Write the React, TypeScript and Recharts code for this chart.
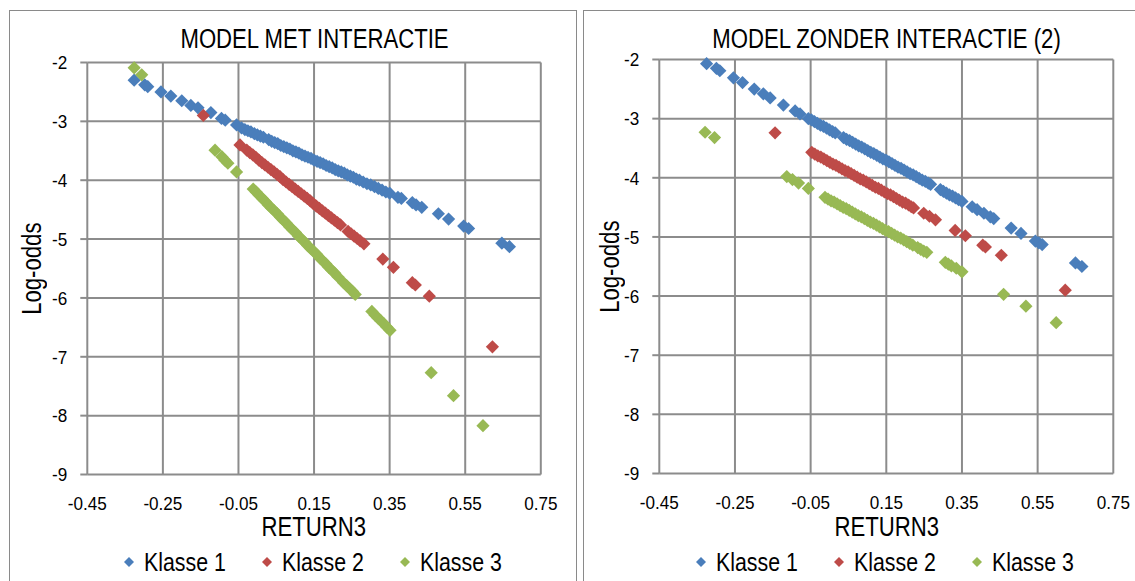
import React from "react";
import { ScatterChart, Scatter, XAxis, YAxis, CartesianGrid } from "recharts";

type Pt = [number, number];

const X_TICKS = [-0.45, -0.25, -0.05, 0.15, 0.35, 0.55, 0.75];
const Y_TICKS = [-9, -8, -7, -6, -5, -4, -3, -2];
const CLASS_NAMES = ["Klasse 1", "Klasse 2", "Klasse 3"];
const CLASS_COLORS = ["#4A7EBB", "#BE4B48", "#98B954"];

// MODEL MET INTERACTIE
const metK1: Pt[] = [
  [-0.326, -2.3], [-0.298, -2.38], [-0.29, -2.41], [-0.255, -2.5], [-0.229, -2.57],
  [-0.2, -2.65], [-0.176, -2.73], [-0.157, -2.77], [-0.123, -2.85], [-0.095, -2.95],
  [-0.085, -2.98], [-0.055, -3.06], [-0.042, -3.11], [-0.033, -3.14], [-0.025, -3.16],
  [-0.017, -3.18], [-0.008, -3.21], [0.0, -3.23], [0.008, -3.25], [0.016, -3.27],
  [0.03, -3.31], [0.038, -3.34], [0.046, -3.36], [0.054, -3.38], [0.062, -3.41],
  [0.07, -3.43], [0.078, -3.45], [0.086, -3.47], [0.094, -3.5], [0.102, -3.52],
  [0.11, -3.54], [0.118, -3.57], [0.126, -3.59], [0.134, -3.61], [0.142, -3.63],
  [0.15, -3.66], [0.158, -3.68], [0.166, -3.7], [0.174, -3.72], [0.182, -3.75],
  [0.19, -3.77], [0.198, -3.79], [0.206, -3.82], [0.214, -3.84], [0.222, -3.86],
  [0.23, -3.88], [0.238, -3.91], [0.246, -3.93], [0.254, -3.95], [0.262, -3.98],
  [0.27, -4.0], [0.28, -4.03], [0.29, -4.06], [0.3, -4.08], [0.31, -4.11],
  [0.32, -4.14], [0.33, -4.17], [0.34, -4.2], [0.35, -4.22], [0.372, -4.29],
  [0.381, -4.31], [0.41, -4.38], [0.42, -4.42], [0.435, -4.46], [0.479, -4.57],
  [0.506, -4.66], [0.546, -4.78], [0.559, -4.82], [0.647, -5.07], [0.667, -5.13],
];
const metK2: Pt[] = [
  [-0.143, -2.9], [-0.046, -3.4], [-0.028, -3.49], [-0.02, -3.53], [-0.012, -3.57],
  [-0.004, -3.61], [0.004, -3.66], [0.012, -3.7], [0.02, -3.74], [0.028, -3.78],
  [0.036, -3.82], [0.044, -3.86], [0.052, -3.9], [0.06, -3.94], [0.068, -3.99],
  [0.076, -4.03], [0.084, -4.07], [0.092, -4.11], [0.1, -4.15], [0.108, -4.19],
  [0.116, -4.23], [0.124, -4.27], [0.132, -4.31], [0.14, -4.35], [0.148, -4.4],
  [0.156, -4.44], [0.164, -4.48], [0.172, -4.52], [0.18, -4.56], [0.188, -4.6],
  [0.196, -4.64], [0.204, -4.68], [0.212, -4.72], [0.22, -4.76], [0.24, -4.87],
  [0.248, -4.91], [0.256, -4.95], [0.264, -4.99], [0.272, -5.03], [0.282, -5.08],
  [0.332, -5.34], [0.36, -5.48], [0.41, -5.74], [0.418, -5.78], [0.455, -5.97],
  [0.622, -6.83],
];
const metK3: Pt[] = [
  [-0.326, -2.09], [-0.306, -2.21], [-0.112, -3.49], [-0.094, -3.6], [-0.086, -3.66],
  [-0.078, -3.71], [-0.055, -3.86], [-0.011, -4.15], [-0.003, -4.2], [0.005, -4.26],
  [0.013, -4.31], [0.021, -4.36], [0.029, -4.42], [0.037, -4.47], [0.045, -4.52],
  [0.053, -4.57], [0.061, -4.63], [0.069, -4.68], [0.077, -4.73], [0.085, -4.79],
  [0.093, -4.84], [0.101, -4.89], [0.109, -4.95], [0.117, -5.0], [0.125, -5.05],
  [0.133, -5.11], [0.141, -5.16], [0.149, -5.21], [0.157, -5.26], [0.165, -5.32],
  [0.173, -5.37], [0.181, -5.42], [0.189, -5.48], [0.197, -5.53], [0.205, -5.58],
  [0.213, -5.64], [0.228, -5.74], [0.236, -5.79], [0.244, -5.84], [0.252, -5.89],
  [0.259, -5.94], [0.303, -6.23], [0.311, -6.29], [0.319, -6.34], [0.327, -6.39],
  [0.335, -6.44], [0.343, -6.5], [0.351, -6.55], [0.46, -7.27], [0.519, -7.66],
  [0.597, -8.17],
];

// MODEL ZONDER INTERACTIE (2)
const zonderK1: Pt[] = [
  [-0.325, -2.07], [-0.299, -2.15], [-0.29, -2.19], [-0.254, -2.31], [-0.23, -2.39],
  [-0.199, -2.5], [-0.175, -2.58], [-0.157, -2.65], [-0.122, -2.77], [-0.091, -2.87],
  [-0.078, -2.92], [-0.056, -3.0], [-0.048, -3.02], [-0.04, -3.05], [-0.032, -3.08],
  [-0.024, -3.11], [-0.016, -3.13], [-0.008, -3.16], [0.0, -3.19], [0.008, -3.22],
  [0.015, -3.24], [0.037, -3.32], [0.045, -3.35], [0.053, -3.37], [0.061, -3.4],
  [0.069, -3.43], [0.077, -3.46], [0.085, -3.48], [0.093, -3.51], [0.101, -3.54],
  [0.109, -3.57], [0.117, -3.59], [0.125, -3.62], [0.133, -3.65], [0.141, -3.68],
  [0.149, -3.7], [0.157, -3.73], [0.165, -3.76], [0.173, -3.79], [0.181, -3.82],
  [0.189, -3.84], [0.197, -3.87], [0.205, -3.9], [0.213, -3.93], [0.221, -3.95],
  [0.229, -3.98], [0.237, -4.01], [0.245, -4.04], [0.253, -4.06], [0.261, -4.09],
  [0.267, -4.11], [0.293, -4.2], [0.301, -4.23], [0.309, -4.26], [0.317, -4.29],
  [0.325, -4.31], [0.333, -4.34], [0.341, -4.37], [0.35, -4.4], [0.377, -4.49],
  [0.39, -4.54], [0.408, -4.6], [0.425, -4.66], [0.434, -4.69], [0.48, -4.85],
  [0.506, -4.94], [0.544, -5.07], [0.553, -5.1], [0.562, -5.13], [0.65, -5.44],
  [0.667, -5.5],
];
const zonderK2: Pt[] = [
  [-0.144, -3.24], [-0.047, -3.57], [-0.039, -3.6], [-0.031, -3.63], [-0.023, -3.65],
  [-0.015, -3.68], [-0.007, -3.71], [0.001, -3.74], [0.009, -3.77], [0.017, -3.79],
  [0.025, -3.82], [0.033, -3.85], [0.041, -3.88], [0.049, -3.9], [0.057, -3.93],
  [0.065, -3.96], [0.073, -3.99], [0.081, -4.02], [0.089, -4.04], [0.097, -4.07],
  [0.105, -4.1], [0.113, -4.13], [0.121, -4.16], [0.129, -4.18], [0.137, -4.21],
  [0.145, -4.24], [0.153, -4.27], [0.161, -4.29], [0.169, -4.32], [0.177, -4.35],
  [0.185, -4.38], [0.193, -4.41], [0.201, -4.43], [0.209, -4.46], [0.216, -4.49],
  [0.222, -4.51], [0.249, -4.6], [0.264, -4.65], [0.28, -4.71], [0.332, -4.89],
  [0.359, -4.98], [0.405, -5.14], [0.412, -5.17], [0.454, -5.31], [0.623, -5.9],
];
const zonderK3: Pt[] = [
  [-0.329, -3.23], [-0.304, -3.32], [-0.113, -3.98], [-0.098, -4.03], [-0.082, -4.09],
  [-0.056, -4.18], [-0.012, -4.33], [-0.004, -4.36], [0.004, -4.39], [0.012, -4.41],
  [0.02, -4.44], [0.028, -4.47], [0.036, -4.5], [0.044, -4.52], [0.052, -4.55],
  [0.06, -4.58], [0.068, -4.61], [0.076, -4.64], [0.084, -4.66], [0.092, -4.69],
  [0.1, -4.72], [0.108, -4.75], [0.116, -4.77], [0.124, -4.8], [0.132, -4.83],
  [0.14, -4.86], [0.148, -4.89], [0.156, -4.91], [0.164, -4.94], [0.172, -4.97],
  [0.18, -5.0], [0.188, -5.02], [0.196, -5.05], [0.204, -5.08], [0.212, -5.11],
  [0.22, -5.14], [0.233, -5.18], [0.241, -5.21], [0.249, -5.24], [0.257, -5.26],
  [0.306, -5.43], [0.314, -5.46], [0.322, -5.49], [0.335, -5.53], [0.35, -5.59],
  [0.46, -5.97], [0.519, -6.17], [0.599, -6.45],
];

// no narrow face installed: squeeze Liberation Sans instead
const SANS = '"Liberation Sans", Arial, sans-serif';
const SQUEEZE = 0.82;
const GRID = "#8c8c8c";

const rows = (pts: Pt[]) => pts.map(([x, y]) => ({ x, y }));

// Excel-style square diamond marker
function Diamond(props: any) {
  const { cx, cy, fill } = props;
  if (cx == null || cy == null) return null;
  const r = 6.6;
  return (
    <path
      d={`M${cx},${cy - r}L${cx + r},${cy}L${cx},${cy + r}L${cx - r},${cy}Z`}
      fill={fill}
    />
  );
}

function XTick(props: any) {
  const { x, y, payload } = props;
  return (
    <text
      x={x}
      y={y}
      dy="0.71em"
      textAnchor="middle"
      fontSize={19}
      fontFamily={SANS}
      fill="#000"
      transform={`translate(${x},0) scale(0.9,1) translate(${-x},0)`}
    >
      {Number(payload.value).toFixed(2)}
    </text>
  );
}

function YTick(props: any) {
  const { x, y, payload } = props;
  return (
    <text
      x={x}
      y={y}
      dy="0.355em"
      textAnchor="end"
      fontSize={19}
      fontFamily={SANS}
      fill="#000"
      transform={`translate(${x},0) scale(0.9,1) translate(${-x},0)`}
    >
      {payload.value}
    </text>
  );
}

const narrow = (size: number): React.CSSProperties => ({
  display: "inline-block",
  fontFamily: SANS,
  fontSize: size,
  transform: `scaleX(${SQUEEZE})`,
  whiteSpace: "nowrap",
});

const CHART_W = 566;
const CHART_H = 570;
const Y_W = 60;
const X_H = 40;

interface PanelProps {
  boxLeft: number;
  title: string;
  series: Pt[][];
  plotLeft: number;
  plotTop: number;
  plotW: number;
  plotH: number;
  yLabelX: number;
}

function Panel({ boxLeft, title, series, plotLeft, plotTop, plotW, plotH, yLabelX }: PanelProps) {
  const midX = plotLeft + plotW / 2;
  const midY = plotTop + plotH / 2;
  return (
    <div
      style={{
        position: "absolute",
        left: boxLeft,
        top: 10,
        width: CHART_W,
        height: 600,
        border: "1px solid #8a8a8a",
        background: "#fff",
        overflow: "hidden",
      }}
    >
      <div
        style={{
          position: "absolute",
          left: midX - 250,
          width: 500,
          top: 13,
          textAlign: "center",
          lineHeight: "30px",
        }}
      >
        <span style={narrow(27)}>{title}</span>
      </div>
      <ScatterChart
        width={CHART_W}
        height={CHART_H}
        margin={{
          top: plotTop,
          left: plotLeft - Y_W,
          right: CHART_W - plotLeft - plotW,
          bottom: CHART_H - plotTop - plotH - X_H,
        }}
      >
        <CartesianGrid stroke={GRID} strokeWidth={2} />
        <XAxis
          type="number"
          dataKey="x"
          domain={[-0.45, 0.75]}
          ticks={X_TICKS}
          interval={0}
          axisLine={false}
          tickLine={false}
          tickSize={0}
          tickMargin={22}
          height={X_H}
          tick={<XTick />}
        />
        <YAxis
          type="number"
          dataKey="y"
          domain={[-9, -2]}
          ticks={Y_TICKS}
          interval={0}
          width={Y_W}
          axisLine={false}
          tickSize={7}
          tickMargin={13}
          tickLine={{ stroke: GRID, strokeWidth: 2 }}
          tick={<YTick />}
        />
        {series.map((pts, i) => (
          <Scatter
            key={CLASS_NAMES[i]}
            name={CLASS_NAMES[i]}
            data={rows(pts)}
            fill={CLASS_COLORS[i]}
            shape={Diamond}
            isAnimationActive={false}
          />
        ))}
      </ScatterChart>
      <div
        style={{
          position: "absolute",
          left: midX - 150,
          width: 300,
          top: 501,
          textAlign: "center",
          lineHeight: "30px",
        }}
      >
        <span style={narrow(27)}>RETURN3</span>
      </div>
      <div
        style={{
          position: "absolute",
          left: yLabelX - 100,
          top: midY - 15,
          width: 200,
          height: 30,
          lineHeight: "30px",
          textAlign: "center",
          transform: "rotate(-90deg)",
        }}
      >
        <span style={narrow(27)}>Log-odds</span>
      </div>
      <div
        style={{
          position: "absolute",
          left: midX - 250,
          width: 500,
          top: 536,
          display: "flex",
          justifyContent: "center",
          alignItems: "center",
          lineHeight: "30px",
        }}
      >
        {CLASS_NAMES.map((name, i) => (
          <div
            key={name}
            style={{ display: "flex", alignItems: "center", marginLeft: i === 0 ? 0 : 34 }}
          >
            <svg width={10} height={10} style={{ marginRight: 10 }}>
              <path d="M5,0L10,5L5,10L0,5Z" fill={CLASS_COLORS[i]} />
            </svg>
            <span style={{ ...narrow(26), transformOrigin: "left center", width: 84 }}>
              {name}
            </span>
          </div>
        ))}
      </div>
    </div>
  );
}

export default function App() {
  return (
    <div
      style={{
        position: "absolute",
        left: 0,
        top: 0,
        width: 1135,
        height: 581,
        overflow: "hidden",
        background: "#fff",
      }}
    >
      <Panel
        boxLeft={9}
        title="MODEL MET INTERACTIE"
        series={[metK1, metK2, metK3]}
        plotLeft={77.3}
        plotTop={51.5}
        plotW={453.5}
        plotH={412}
        yLabelX={21.5}
      />
      <Panel
        boxLeft={583}
        title="MODEL ZONDER INTERACTIE (2)"
        series={[zonderK1, zonderK2, zonderK3]}
        plotLeft={75.3}
        plotTop={48.5}
        plotW={454}
        plotH={414}
        yLabelX={25.5}
      />
    </div>
  );
}
